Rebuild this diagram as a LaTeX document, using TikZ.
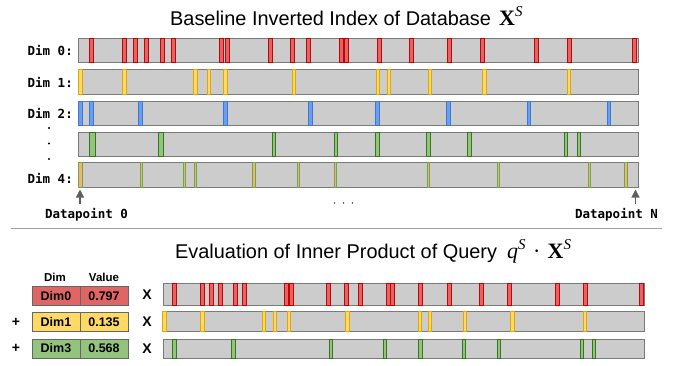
\documentclass[tikz,border=0pt]{standalone}
\usepackage{fontspec}
\setmainfont{Liberation Sans}
\newfontfamily\monofont{DejaVu Sans Mono}
\newfontfamily\seriffont{Liberation Serif}
\usetikzlibrary{arrows.meta}
\definecolor{barfill}{HTML}{CCCCCC}
\definecolor{barline}{HTML}{7A7A7A}
\definecolor{redfill}{HTML}{E06666}
\definecolor{redline}{HTML}{CC0000}
\definecolor{yelfill}{HTML}{FFD966}
\definecolor{yelline}{HTML}{E0A800}
\definecolor{bluefill}{HTML}{6D9EEB}
\definecolor{blueline}{HTML}{3C78D8}
\definecolor{grnfill}{HTML}{93C47D}
\definecolor{grnline}{HTML}{38761D}
\definecolor{orgfill}{HTML}{F6B26B}
\definecolor{olvline}{HTML}{6AA84F}
\definecolor{cellline}{HTML}{666666}
\definecolor{sepline}{HTML}{A0A0A0}
\definecolor{arrowgray}{HTML}{5F5F5F}
\tikzset{
  bar/.style={fill=barfill, draw=barline, line width=1pt},
  mred/.style={fill=redfill, draw=redline, line width=0.8pt},
  myel/.style={fill=yelfill, draw=yelline, line width=0.8pt},
  mblue/.style={fill=bluefill, draw=blueline, line width=0.8pt},
  mgrn/.style={fill=grnfill, draw=grnline, line width=0.8pt},
  mfour/.style={fill=orgfill, draw=olvline, line width=0.8pt},
  dimlabel/.style={font=\monofont\bfseries\fontsize{12.5}{14}\selectfont, anchor=east, inner sep=0pt},
  dplabel/.style={font=\monofont\bfseries\fontsize{12.5}{14}\selectfont, inner sep=0pt},
  title/.style={font=\fontsize{19.9}{22}\selectfont, anchor=base west, inner sep=0pt},
  mathlbl/.style={font=\seriffont\fontsize{22}{24}\selectfont, anchor=base west, inner sep=0pt},
  cell/.style={draw=cellline, line width=1pt, minimum width=48pt, minimum height=19pt, inner sep=0pt,
    font=\bfseries\fontsize{12.5}{14}\selectfont},
  head/.style={font=\bfseries\fontsize{11.5}{13}\selectfont, inner sep=0pt},
  op/.style={font=\bfseries\fontsize{14}{16}\selectfont, inner sep=0pt},
  arr/.style={draw=arrowgray, line width=1.2pt, -{Triangle[width=8pt,length=8pt]}, arrowgray},
  vdot/.style={fill=black, draw=none},
  hdot/.style={fill=black!70, draw=none},
}
\newcommand\markrow[4]{\foreach \xx/\ww in {#4} {\draw[#1] ({\xx-\ww/2},#2) rectangle ({\xx+\ww/2},#3);}}
\newcommand\supS{\raisebox{0.42em}{\fontsize{15}{15}\selectfont\itshape S}}
\begin{document}
\begin{tikzpicture}[x=1pt,y=-1pt]
\useasboundingbox (0,0) rectangle (680,365);
% ---- top title
\node[title] (t1) at (170,25) {Baseline Inverted Index of Database};
\node[mathlbl] (t1m) at (499,25.5) {{\bfseries X}\supS};
% ---- top bars
\draw[bar] (78.5,38.5) rectangle (638,62.5);
\draw[bar] (78.5,69.5) rectangle (638,94);
\draw[bar] (78.5,101) rectangle (638,125);
\draw[bar] (78.5,132) rectangle (638,156);
\draw[bar] (78.5,162) rectangle (638,187);
\markrow{mred}{38.5}{62.5}{91.5/4,124/4,135/4,146/4,162/4,173/4,221.5/4,227/4,270.5/4,292.5/4,308.5/4,341.5/4,346/4,379/4,411/4,449.5/4,482/4,536.5/4,569/4,634/4}
\markrow{myel}{69.5}{94}{80.5/4,124/4,195.5/3.5,209/3,225.5/4,293.5/3,377.5/3,388.5/3,429.5/3,484.5/3.5,568.5/3}
\markrow{mblue}{101}{125}{80.5/4,91.5/4,140.5/4,225.5/4,310.5/4,377.5/4,448.5/4,529/3.5,609/3.5}
\markrow{mgrn}{132}{156}{92.5/6,160.5/5,274/3,336/3.5,377.5/3.5,428.5/4,469.5/4,566/3.5,579/3.5}
\markrow{mfour}{162}{187}{80.5/3.5,141.5/2.5,184.5/2.5,195.5/2.5,254/2.5,298.5/2.5,335.5/2.5,428.5/2.5,498.5/2.5,589.5/2.5,626/2.5}
% ---- labels
\node[dimlabel] (l0) at (73,50.5) {Dim 0:};
\node[dimlabel] (l1) at (73,82) {Dim 1:};
\node[dimlabel] (l2) at (73,113) {Dim 2:};
\node[dimlabel] (l4) at (73,178) {Dim 4:};
\fill[vdot] (49,128) circle (1.2);
\fill[vdot] (49,143.5) circle (1.2);
\fill[vdot] (49,159) circle (1.2);
% ---- datapoint arrows
\node[dplabel] (d0) at (86.5,215) {Datapoint 0};
\node[dplabel] (dn) at (616.5,215) {Datapoint N};
\coordinate (d0tip) at (80,189.5);
\coordinate (d0base) at (80,204);
\coordinate (dntip) at (635.5,189.5);
\coordinate (dnbase) at (635.5,204);
\draw[arr] (d0base) -- (d0tip);
\draw[arr] (dnbase) -- (dntip);
\fill[hdot] (334.5,203) circle (0.8);
\fill[hdot] (343.5,203) circle (0.8);
\fill[hdot] (352.5,203) circle (0.8);
% ---- separator
\draw[sepline, line width=1.3pt] (11,228.5) -- (662,228.5);
% ---- bottom title
\node[title] (t2) at (175,258) {Evaluation of Inner Product of Query};
\node[mathlbl] (t2m) at (507,258.5) {{\itshape q}\supS\,\,·\,\,{\bfseries X}\supS};
% ---- table
\node[head] (hdim) at (55,277) {Dim};
\node[head] (hval) at (104,277) {Value};
\node[cell, fill=redfill] (c0d) at (56,296) {Dim0};
\node[cell, fill=redfill] (c0v) at (104,296) {0.797};
\node[cell, fill=yelfill] (c1d) at (56,322) {Dim1};
\node[cell, fill=yelfill] (c1v) at (104,322) {0.135};
\node[cell, fill=grnfill] (c3d) at (56,348.5) {Dim3};
\node[cell, fill=grnfill] (c3v) at (104,348.5) {0.568};
\node[op] (p1) at (16,322) {+};
\node[op] (p2) at (16,348.5) {+};
\node[op] (x0) at (147,295) {X};
\node[op] (x1) at (147,322) {X};
\node[op] (x2) at (147,349) {X};
% ---- bottom bars
\draw[bar] (163.5,283.5) rectangle (644,305);
\draw[bar] (163.5,311) rectangle (644,331.5);
\draw[bar] (163.5,339) rectangle (644,358.5);
\markrow{mred}{283.5}{305}{174/4,202.5/4,211.5/4,220/4,235/4,244/4,286/4,291/4,328/4,346.5/4,360.5/4,388.5/4,392.5/4,420.5/4,449/4,481.5/4,509.5/4,557/4,585/4,641/4}
\markrow{myel}{311}{331.5}{164.5/3.5,202.5/3.5,263.5/3,274.5/3,289/3.5,347.5/3.5,420/3.5,429.5/3,465/3,512.5/3.5,584.5/3}
\markrow{mgrn}{339}{358.5}{174.5/4,233.5/4,331/3.5,384.5/3,420/4,464/3.5,499/3.5,582/3.5,594/3.5}
\end{tikzpicture}
\end{document}
